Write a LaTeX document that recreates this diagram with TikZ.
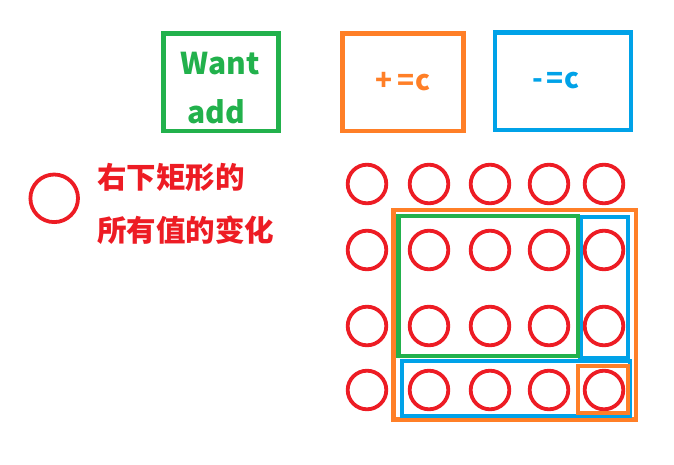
\documentclass[tikz,border=0pt]{standalone}
\usepackage{fontspec}
\newfontfamily\cjk{Noto Sans CJK SC}
\usetikzlibrary{positioning}
\definecolor{pred}{HTML}{ED1C24}
\definecolor{pgreen}{HTML}{22B14C}
\definecolor{porange}{HTML}{FF7F27}
\definecolor{pblue}{HTML}{00A2E8}

\begin{document}
\begin{tikzpicture}[x=1pt,y=-1pt,
  cell/.style={draw=pred,circle,line width=3.8pt,minimum size=38.6pt,inner sep=0pt},
  opbox/.style={draw,line width=4.6pt,minimum height=97.6pt,align=center,inner sep=0pt,font=\cjk\bfseries\fontsize{28}{50}\selectfont},
  region/.style={line width=4.2pt}]
\useasboundingbox (0,0) rectangle (674,464);
% top boxes
\node[opbox,draw=pgreen,text=pgreen,minimum width=114.6pt,font=\cjk\bfseries\fontsize{30}{49}\selectfont] (want) at (221,82) {\rule{0pt}{35pt}\hspace*{-2pt}Want\\\hspace*{-10pt}add};
\node[opbox,draw=porange,text=porange,minimum width=120.6pt,right=59.8pt of want] (plus) {\raisebox{-3pt}{+\kern5pt=\kern1.5pt c}};
\node[opbox,draw=pblue,text=pblue,minimum width=136pt,right=27.1pt of plus,yshift=1pt] (minus) {\hspace*{-14pt}\raisebox{-3pt}{-\kern3pt=\kern1.5pt c}};
% legend
\node[cell,minimum size=47.6pt] (legend) at (54.2,198.3) {};
\node[anchor=north west,align=left,text=pred,inner sep=0pt,font=\cjk\bfseries\fontsize{29.5}{53}\selectfont] (note) at (97,163) {右下矩形的\\所有值的变化};
% grid of cells
\foreach \y [count=\r] in {184,250,326,390}
  \foreach \x [count=\c] in {367,429,490,549,604}
    \node[cell] (c\r\c) at (\x,\y) {};
% sub-rectangles
\draw[region,porange] (393.5,210) rectangle (636,419.5);
\draw[region,pblue] (580.5,216.7) rectangle (628.3,358.3);
\draw[region,pblue] (401.7,360.7) rectangle (630,415.7);
\draw[region,pgreen] (398.5,215.7) rectangle (578.3,355.7);
\draw[region,porange] (577.7,365.7) rectangle (628.3,413.3);
\end{tikzpicture}
\end{document}
